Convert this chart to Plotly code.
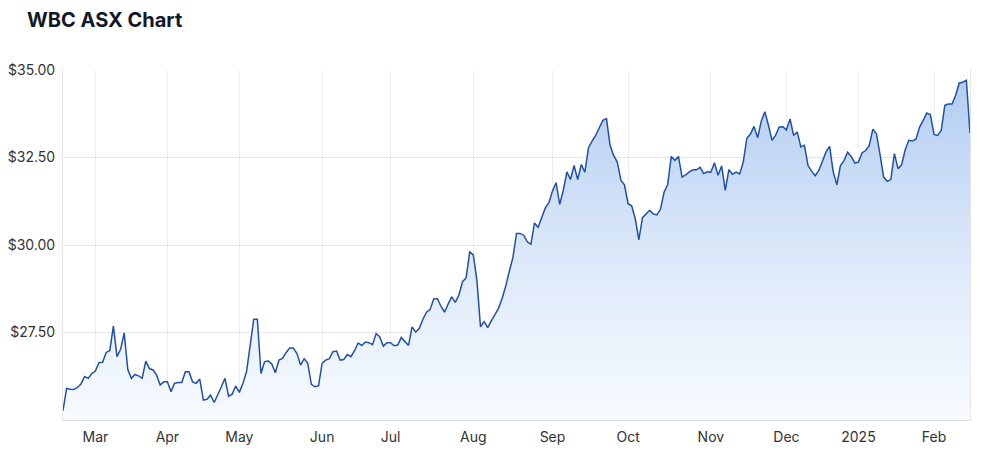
import pandas as pd
import plotly.graph_objects as go

# ASX trading days between the first and last point (exchange holidays removed)
start_date = "2024-02-19"
end_date = "2025-02-17"
asx_holidays = ["2024-03-29", "2024-04-01", "2024-04-25", "2024-06-10",
                "2024-12-25", "2024-12-26", "2025-01-01", "2025-01-27"]

prices = [
    25.27, 25.90, 25.88, 25.87, 25.93, 26.03, 26.24, 26.19, 26.33, 26.40,
    26.64, 26.65, 26.93, 26.98, 27.68, 26.81, 27.02, 27.49, 26.44, 26.19,
    26.30, 26.26, 26.19, 26.68, 26.47, 26.43, 26.28, 26.00, 26.09, 26.09,
    25.81, 26.05, 26.07, 26.07, 26.38, 26.38, 26.09, 26.05, 26.17, 25.57,
    25.59, 25.71, 25.50, 25.71, 25.95, 26.19, 25.68, 25.74, 25.97, 25.79,
    26.05, 26.38, 27.19, 27.88, 27.88, 26.33, 26.66, 26.69, 26.60, 26.35,
    26.71, 26.76, 26.93, 27.06, 27.06, 26.90, 26.57, 26.75, 26.62, 26.02,
    25.95, 25.98, 26.62, 26.71, 26.75, 26.95, 26.97, 26.71, 26.73, 26.87,
    26.81, 26.98, 27.20, 27.13, 27.23, 27.21, 27.15, 27.47, 27.37, 27.11,
    27.21, 27.21, 27.12, 27.14, 27.36, 27.23, 27.13, 27.66, 27.51, 27.62,
    27.88, 28.08, 28.16, 28.46, 28.47, 28.25, 28.08, 28.31, 28.52, 28.36,
    28.57, 28.95, 29.06, 29.80, 29.72, 28.99, 27.66, 27.81, 27.64, 27.83,
    28.02, 28.19, 28.47, 28.82, 29.25, 29.64, 30.33, 30.33, 30.28, 30.09,
    30.02, 30.63, 30.50, 30.80, 31.06, 31.21, 31.54, 31.78, 31.16, 31.56,
    32.09, 31.87, 32.27, 31.87, 32.30, 32.08, 32.78, 32.97, 33.13, 33.35,
    33.56, 33.61, 32.85, 32.56, 32.37, 31.85, 31.72, 31.18, 31.12, 30.75,
    30.15, 30.78, 30.90, 30.99, 30.89, 30.86, 31.02, 31.51, 31.73, 32.53,
    32.42, 32.53, 31.94, 32.00, 32.09, 32.15, 32.15, 32.22, 32.04, 32.09,
    32.08, 32.35, 31.99, 32.26, 31.56, 32.15, 32.02, 32.08, 32.03, 32.37,
    33.05, 33.17, 33.39, 33.06, 33.54, 33.81, 33.42, 32.99, 33.14, 33.37,
    33.38, 33.29, 33.60, 33.13, 33.23, 32.80, 32.85, 32.27, 32.11, 31.98,
    32.13, 32.39, 32.66, 32.82, 32.09, 31.72, 32.27, 32.41, 32.65, 32.53,
    32.34, 32.37, 32.63, 32.70, 32.84, 33.31, 33.18, 32.59, 31.94, 31.82,
    31.87, 32.61, 32.18, 32.29, 32.72, 32.99, 32.97, 33.03, 33.37, 33.56,
    33.77, 33.72, 33.16, 33.13, 33.27, 33.99, 34.03, 34.03, 34.27, 34.63,
    34.65, 34.71, 33.20,
]

tick_dates = ["2024-03-01", "2024-04-02", "2024-05-01", "2024-06-03",
              "2024-07-01", "2024-08-01", "2024-09-02", "2024-10-01",
              "2024-11-01", "2024-12-02", "2025-01-02", "2025-02-03"]
tick_labels = ["Mar", "Apr", "May", "Jun", "Jul", "Aug", "Sep", "Oct",
               "Nov", "Dec", "2025", "Feb"]
y_ticks = [27.5, 30.0, 32.5, 35.0]
y_tick_labels = ["$27.50", "$30.00", "$32.50", "$35.00"]

days = pd.bdate_range(start_date, end_date)
days = days[~days.isin(pd.to_datetime(asx_holidays))]
dates = [d.strftime("%Y-%m-%d") for d in days]

fig = go.Figure()
fig.add_trace(go.Scatter(
    x=dates, y=prices, mode="lines",
    line=dict(color="#2150a8", width=1.5),
    fill="tozeroy",
    fillgradient=dict(
        type="vertical", start=25, stop=35,
        colorscale=[[0, "rgba(248,251,255,1)"], [0.5, "rgba(218,231,249,1)"],
                    [1, "rgba(176,204,241,1)"]],
    ),
    hoverinfo="skip",
))

fig.update_layout(
    width=998, height=457,
    margin=dict(l=63, r=28, t=70, b=37),
    paper_bgcolor="white", plot_bgcolor="white",
    showlegend=False,
    font=dict(family="Inter, Roboto, sans-serif", color="#333333", size=14),
    title=dict(text="<b>WBC ASX Chart</b>", x=27 / 998, xref="container",
               xanchor="left", y=1 - 20 / 457, yref="container", yanchor="middle",
               font=dict(size=20, color="#111827", family="Inter, sans-serif")),
)
fig.update_xaxes(
    type="category", range=[0, len(dates) - 1], automargin=False,
    tickmode="array", tickvals=tick_dates, ticktext=tick_labels,
    showgrid=True, gridcolor="#eeeeee", gridwidth=1,
    showline=True, linecolor="#dddddd", linewidth=1,
    ticks="", ticklabelstandoff=4,
    tickfont=dict(size=14, color="#333333"),
)
fig.update_yaxes(
    range=[25, 35], tickmode="array", tickvals=y_ticks, ticktext=y_tick_labels,
    automargin=False,
    showgrid=True, gridcolor="#e6e6e6", gridwidth=1,
    showline=True, linecolor="#e6e6e6", mirror=True,
    zeroline=False, ticks="", ticklabelstandoff=4,
    tickfont=dict(size=14, color="#333333"),
)

fig.write_html("out.html")
